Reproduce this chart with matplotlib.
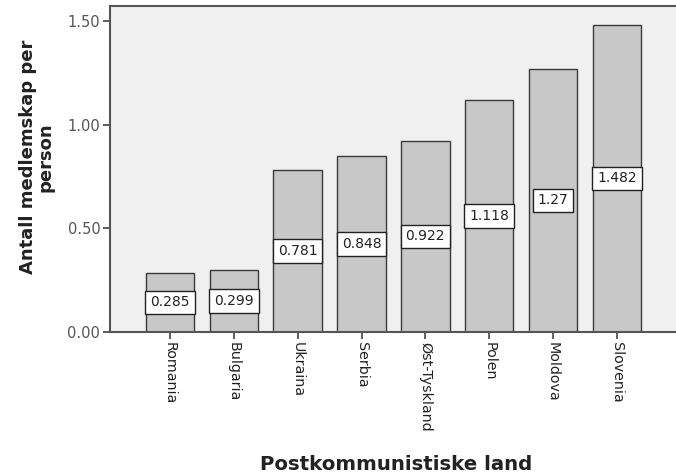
import matplotlib
matplotlib.use("Agg")
import matplotlib.pyplot as plt

countries = ["Romania", "Bulgaria", "Ukraina", "Serbia", "Øst-Tyskland",
             "Polen", "Moldova", "Slovenia"]
values = [0.285, 0.299, 0.781, 0.848, 0.922, 1.118, 1.27, 1.482]
value_labels = ["0.285", "0.299", "0.781", "0.848", "0.922", "1.118", "1.27", "1.482"]
yticks = [0.0, 0.5, 1.0, 1.5]
ytick_labels = ["0.00", "0.50", "1.00", "1.50"]

fig = plt.figure(figsize=(6.76, 4.76), dpi=100)
ax = fig.add_axes([0.1627, 0.3025, 0.8405, 0.6849])
ax.set_facecolor("#f0f0f0")

x = list(range(len(countries)))
ax.bar(x, values, width=0.76, color="#c8c8c8", edgecolor="#3a3a3a", linewidth=1.0, zorder=2)

for xi, v, lab in zip(x, values, value_labels):
    ax.text(xi, v / 2, lab, ha="center", va="center", fontsize=10, color="#222222",
            bbox=dict(boxstyle="square,pad=0.35", facecolor="white", edgecolor="#222222",
                      linewidth=1.0), zorder=3)

ax.set_xlim(-0.94, 7.96)
ax.set_ylim(0, 1.573)
ax.set_yticks(yticks)
ax.set_yticklabels(ytick_labels, fontsize=10.5, color="#555555")
ax.set_xticks(x)
ax.set_xticklabels(countries, rotation=270, fontsize=10.3, color="#222222")
ax.tick_params(axis="both", length=5, width=1.2, color="#444444", pad=2)

for side in ["left", "bottom", "top"]:
    ax.spines[side].set_color("#555555")
    ax.spines[side].set_linewidth(1.5)
ax.spines["right"].set_visible(False)

fig.text(37 / 676, 1 - 157 / 476, "Antall medlemskap per\nperson", rotation=90,
         ha="center", va="center", fontsize=13, fontweight="bold",
         color="#222222", linespacing=0.95)
fig.text(396 / 676, 1 - 465 / 476, "Postkommunistiske land", ha="center", va="center",
         fontsize=14.2, fontweight="bold", color="#222222")

fig.savefig("out.png", dpi=100)
